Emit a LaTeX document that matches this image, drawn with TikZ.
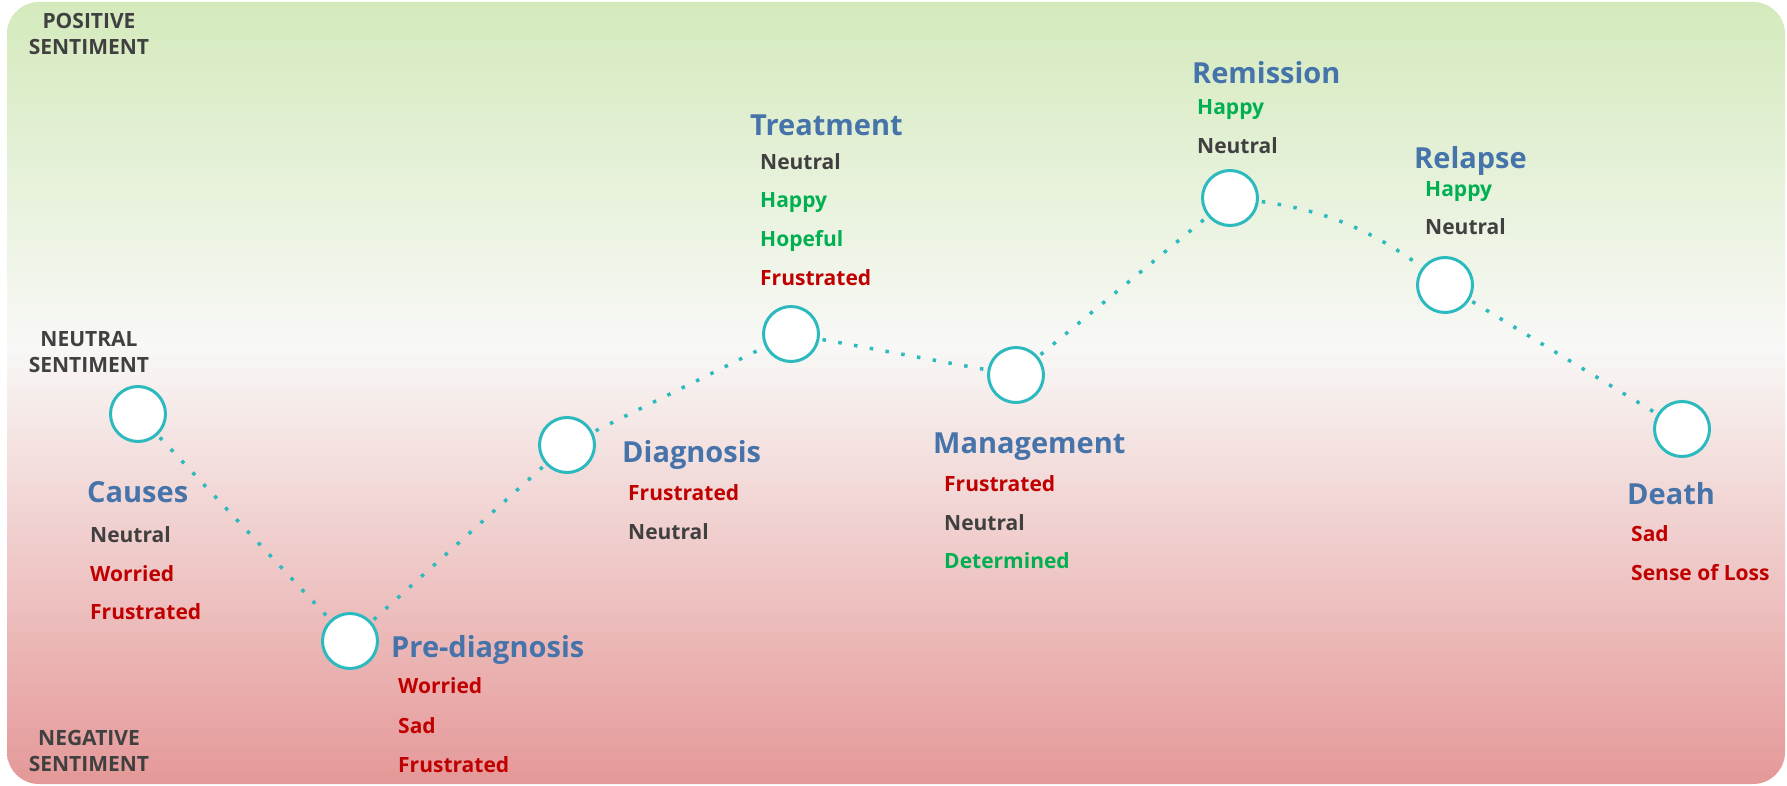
\documentclass[tikz,border=0pt]{standalone}
\usepackage{fontspec}
\setmainfont{Open Sans}
\definecolor{posc}{RGB}{212,234,188}
\definecolor{midc}{RGB}{248,248,246}
\definecolor{negc}{RGB}{229,152,152}
\definecolor{titleblue}{RGB}{70,116,170}
\definecolor{emored}{RGB}{192,0,0}
\definecolor{emogreen}{RGB}{0,176,80}
\definecolor{emogray}{RGB}{64,64,64}
\definecolor{linkteal}{RGB}{44,186,190}
\pgfdeclarelayer{bglayer}
\pgfdeclarelayer{linelayer}
\pgfsetlayers{bglayer,linelayer,main}
\pgfdeclareverticalshading{sentbg}{100bp}{color(0bp)=(negc); color(25bp)=(negc); color(53bp)=(midc); color(75bp)=(posc); color(100bp)=(posc)}
\tikzset{
  stagecircle/.style={circle, draw=linkteal, line width=3pt, fill=white, minimum size=55pt, inner sep=0pt},
  stageTitle/.style={font=\fontsize{29}{29}\selectfont\bfseries, text=titleblue, anchor=base west, inner sep=0pt},
  emoWord/.style={font=\fontsize{21}{21}\selectfont\bfseries, anchor=base west, inner sep=0pt},
  emoNeu/.style={emoWord, text=emogray},
  emoPos/.style={emoWord, text=emogreen},
  emoNeg/.style={emoWord, text=emored},
  sentLabel/.style={font=\fontsize{21}{21}\selectfont\bfseries, text=emogray, anchor=base, inner sep=0pt},
  link/.style={draw=linkteal, line width=3.5pt, dash pattern=on 3.5pt off 12.5pt}
}
\begin{document}
\begin{tikzpicture}[x=1pt, y=-1pt]
\useasboundingbox (0,0) rectangle (1787,786);
\begin{pgfonlayer}{bglayer}
  \fill[white] (0,0) rectangle (1787,786);
  \shade[shading=sentbg, rounded corners=32pt] (7,2) rectangle (1785,784);
\end{pgfonlayer}

% sentiment axis labels
\node[sentLabel] (posA) at (89,29) {POSITIVE};
\node[sentLabel] (posB) at (89,55) {SENTIMENT};
\node[sentLabel] (neuA) at (89,346) {NEUTRAL};
\node[sentLabel] (neuB) at (89,372) {SENTIMENT};
\node[sentLabel] (negA) at (89,745) {NEGATIVE};
\node[sentLabel] (negB) at (89,771) {SENTIMENT};

% stage circles
\node[stagecircle] (causes) at (138,414) {};
\node[stagecircle] (prediag) at (350,641) {};
\node[stagecircle] (diag) at (567,445) {};
\node[stagecircle] (treat) at (791,334) {};
\node[stagecircle] (manage) at (1016,375) {};
\node[stagecircle] (remiss) at (1230,198) {};
\node[stagecircle] (relapse) at (1445,285) {};
\node[stagecircle] (death) at (1682,429) {};

% connectors
\begin{pgfonlayer}{linelayer}
  \draw[link] (causes.center) -- (prediag.center);
  \draw[link] (prediag.center) -- (diag.center);
  \draw[link] (diag.center) -- (treat.center);
  \draw[link] (treat.center) to[out=-10, in=170] (manage.center);
  \draw[link] (manage.center) -- (remiss.center);
  \draw[link] (remiss.center) to[bend left=17] (relapse.center);
  \draw[link] (relapse.center) -- (death.center);
\end{pgfonlayer}

% Causes
\node[stageTitle] (tCauses) at (87,502) {Causes};
\node[emoNeu] (c1) at (90,542) {Neutral};
\node[emoNeg] (c2) at (90,581) {Worried};
\node[emoNeg] (c3) at (90,619) {Frustrated};

% Pre-diagnosis
\node[stageTitle] (tPre) at (391,657) {Pre-diagnosis};
\node[emoNeg] (p1) at (398,693) {Worried};
\node[emoNeg] (p2) at (398,733) {Sad};
\node[emoNeg] (p3) at (398,772) {Frustrated};

% Diagnosis
\node[stageTitle] (tDiag) at (622,462) {Diagnosis};
\node[emoNeg] (d1) at (628,500) {Frustrated};
\node[emoNeu] (d2) at (628,539) {Neutral};

% Treatment
\node[stageTitle] (tTreat) at (750,136) {Treatment};
\node[emoNeu] (t1) at (760,170) {Neutral};
\node[emoPos] (t2) at (760,208) {Happy};
\node[emoPos] (t3) at (760,247) {Hopeful};
\node[emoNeg] (t4) at (760,285) {Frustrated};

% Management
\node[stageTitle] (tMan) at (933,453) {Management};
\node[emoNeg] (m1) at (944,491) {Frustrated};
\node[emoNeu] (m2) at (944,530) {Neutral};
\node[emoPos] (m3) at (944,568) {Determined};

% Remission
\node[stageTitle] (tRem) at (1192,84) {Remission};
\node[emoPos] (r1) at (1197,115) {Happy};
\node[emoNeu] (r2) at (1197,154) {Neutral};

% Relapse
\node[stageTitle] (tRel) at (1414,169) {Relapse};
\node[emoPos] (l1) at (1425,197) {Happy};
\node[emoNeu] (l2) at (1425,235) {Neutral};

% Death
\node[stageTitle] (tDeath) at (1627,504) {Death};
\node[emoNeg] (x1) at (1631,541) {Sad};
\node[emoNeg] (x2) at (1631,580) {Sense of Loss};
\end{tikzpicture}
\end{document}
